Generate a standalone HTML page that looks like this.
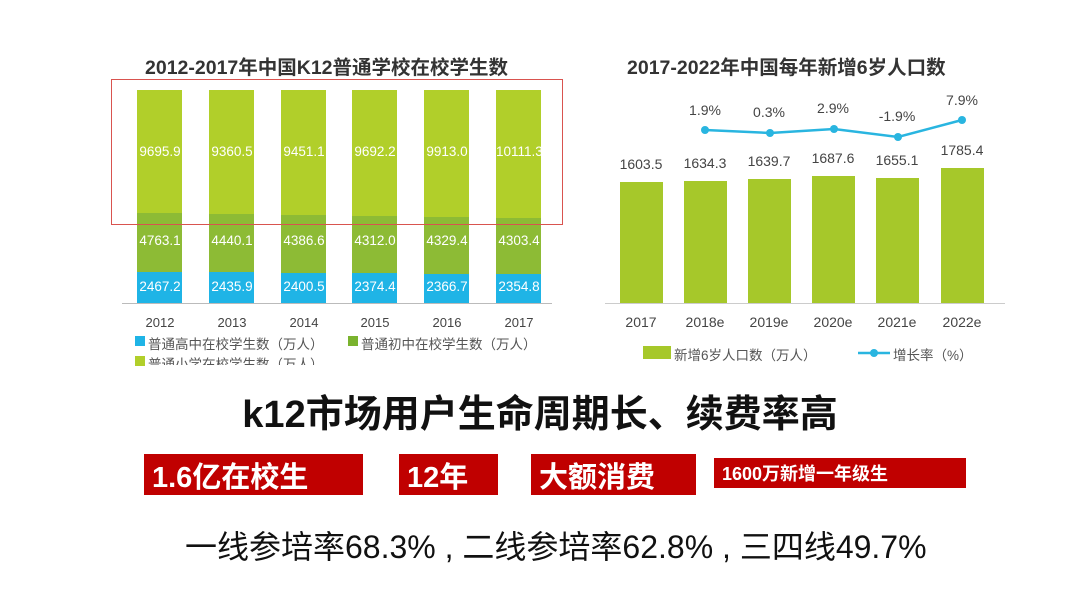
<!DOCTYPE html>
<html><head><meta charset="utf-8"><style>
*{margin:0;padding:0;box-sizing:border-box}
body{width:1080px;height:608px;background:#fff;position:relative;overflow:hidden;font-family:"Liberation Sans","Noto Sans CJK SC",sans-serif}
.a{position:absolute;white-space:nowrap}
.t{font-weight:bold;color:#333;font-size:19.5px}
.lb{color:#fff;font-size:13.5px;text-align:center;width:46px}
.yr{color:#444;font-size:13px;text-align:center;width:60px}
.red{position:absolute;background:#c00000;color:#fff;font-weight:bold;padding-left:8px;display:flex;align-items:center}
</style></head><body>
<div class="a t" style="left:145px;top:51px">2012-2017年中国K12普通学校在校学生数</div>
<div class="a t" style="left:627px;top:51px">2017-2022年中国每年新增6岁人口数</div>

<div class="a" style="left:122px;top:303px;width:430px;height:1px;background:#bbb"></div>
<div id="L"></div>
<div class="a" style="left:111px;top:79px;width:452px;height:146px;border:1.5px solid #d9534f"></div>
<div class="a" style="left:135px;top:336px;width:10px;height:10px;background:#1fb4e6"></div>
<div class="a" style="left:148px;top:333px;font-size:13.5px;color:#555">普通高中在校学生数（万人）</div>
<div class="a" style="left:348px;top:336px;width:10px;height:10px;background:#7ab32e"></div>
<div class="a" style="left:361px;top:333px;font-size:13.5px;color:#555">普通初中在校学生数（万人）</div>
<div class="a" style="left:135px;top:356px;width:10px;height:10px;background:#b1cf2a"></div>
<div class="a" style="left:148px;top:353px;font-size:13.5px;color:#555;height:12px;overflow:hidden">普通小学在校学生数（万人）</div>

<div class="a" style="left:605px;top:303px;width:400px;height:1px;background:#ccc"></div>
<div id="R"></div>
<svg class="a" style="left:0;top:0" width="1080" height="608">
<polyline points="705,130 770,133 834,129 898,137 962,120" fill="none" stroke="#29b5e0" stroke-width="2.5"/>
<g fill="#29b5e0"><circle cx="705" cy="130" r="4"/><circle cx="770" cy="133" r="4"/><circle cx="834" cy="129" r="4"/><circle cx="898" cy="137" r="4"/><circle cx="962" cy="120" r="4"/>
<line x1="858" y1="353" x2="890" y2="353" stroke="#29b5e0" stroke-width="2.5"/><circle cx="874" cy="353" r="4"/></g>
</svg>
<div class="a" style="left:643px;top:346px;width:28px;height:13px;background:#a6c82a"></div>
<div class="a" style="left:674px;top:344px;font-size:13.5px;color:#555">新增6岁人口数（万人）</div>
<div class="a" style="left:893px;top:344px;font-size:13.5px;color:#555">增长率（%）</div>

<div class="a" style="left:0;width:1080px;top:383px;text-align:center;font-size:38px;font-weight:bold;color:#111">k12市场用户生命周期长、续费率高</div>
<div class="red" style="left:144px;top:454px;width:219px;height:41px;font-size:29px">1.6亿在校生</div>
<div class="red" style="left:399px;top:454px;width:99px;height:41px;font-size:29px">12年</div>
<div class="red" style="left:531px;top:454px;width:165px;height:41px;font-size:29px">大额消费</div>
<div class="red" style="left:714px;top:458px;width:252px;height:30px;font-size:18px">1600万新增一年级生</div>
<div class="a" style="left:185px;top:522px;font-size:32px;color:#111">一线参培率68.3% , 二线参培率62.8% , 三四线49.7%</div>

<script>
var L=document.getElementById('L'),h='';
var xs=[137,209,281,352,424,496],a=['9695.9','9360.5','9451.1','9692.2','9913.0','10111.3'],b=['4763.1','4440.1','4386.6','4312.0','4329.4','4303.4'],c=['2467.2','2435.9','2400.5','2374.4','2366.7','2354.8'],y=['2012','2013','2014','2015','2016','2017'];
var mb=[213,214,215,216,217,218],cb=[272,272,273,273,274,274];
for(var i=0;i<6;i++){var x=xs[i];
h+='<div class="a" style="left:'+x+'px;top:90px;width:45px;height:'+(mb[i]-90)+'px;background:#b1cf2a"></div>';
h+='<div class="a" style="left:'+x+'px;top:'+mb[i]+'px;width:45px;height:'+(cb[i]-mb[i])+'px;background:#8dbb35"></div>';
h+='<div class="a" style="left:'+x+'px;top:'+cb[i]+'px;width:45px;height:'+(303-cb[i])+'px;background:#1fb4e6"></div>';
h+='<div class="a lb" style="left:'+x+'px;top:144px">'+a[i]+'</div>';
h+='<div class="a lb" style="left:'+x+'px;top:233px">'+b[i]+'</div>';
h+='<div class="a lb" style="left:'+x+'px;top:279px">'+c[i]+'</div>';
h+='<div class="a yr" style="left:'+(x-7)+'px;top:315px">'+y[i]+'</div>';}
L.innerHTML=h;
var R=document.getElementById('R');h='';
var rx=[620,684,748,812,876,941],rt=[182,181,179,176,178,168],rv=['1603.5','1634.3','1639.7','1687.6','1655.1','1785.4'],ry=['2017','2018e','2019e','2020e','2021e','2022e'],pv=['','1.9%','0.3%','2.9%','-1.9%','7.9%'],py=[0,102,104,100,108,92];
for(i=0;i<6;i++){var x=rx[i];
h+='<div class="a" style="left:'+x+'px;top:'+rt[i]+'px;width:43px;height:'+(303-rt[i])+'px;background:#a6c82a"></div>';
h+='<div class="a yr" style="left:'+(x-9)+'px;top:'+(rt[i]-26)+'px;font-size:14px">'+rv[i]+'</div>';
h+='<div class="a yr" style="left:'+(x-9)+'px;top:314px;font-size:14px">'+ry[i]+'</div>';
if(pv[i])h+='<div class="a yr" style="left:'+(x-9)+'px;top:'+py[i]+'px;font-size:14px">'+pv[i]+'</div>';}
R.innerHTML=h;
</script>
</body></html>
